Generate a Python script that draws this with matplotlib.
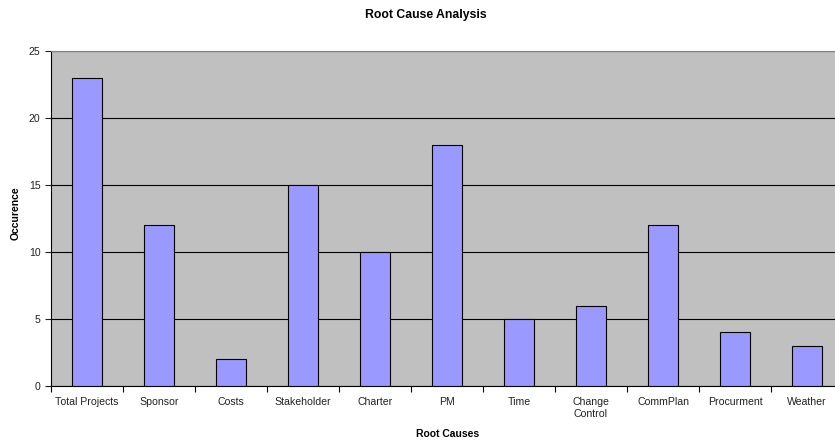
import numpy as np
import matplotlib.pyplot as plt

plt.rcParams['font.family'] = ['Liberation Sans', 'DejaVu Sans']

causes = ['Total Projects', 'Sponsor', 'Costs', 'Stakeholder', 'Charter', 'PM',
          'Time', 'Change\nControl', 'CommPlan', 'Procurment', 'Weather']
occurrence = [23, 12, 2, 15, 10, 18, 5, 6, 12, 4, 3]

fig = plt.figure(figsize=(8.35, 4.42), dpi=100)
# plot area runs a bit past the right edge of the picture, as in the original
ax = fig.add_axes([51 / 835, 1 - 386 / 442, 792 / 835, 335 / 442])
ax.set_facecolor('#C0C0C0')

x = np.arange(len(causes))
ax.bar(x, occurrence, width=0.41, color='#9999FF', edgecolor='black', linewidth=0.8, zorder=3)

ax.set_xlim(-0.5, len(causes) - 0.5)
ax.set_ylim(0, 25)
ax.set_yticks([0, 5, 10, 15, 20, 25])
ax.yaxis.grid(True, color='black', linewidth=0.8, zorder=1)

# category labels centred, tick marks between categories
ax.set_xticks(x)
ax.set_xticklabels(causes, fontsize=7.6, color='#222222')
ax.tick_params(axis='x', length=0, pad=8)
ax.set_xticks(np.arange(-0.5, len(causes)), minor=True)
ax.tick_params(axis='x', which='minor', length=4, direction='out', width=0.8)
ax.tick_params(axis='y', labelsize=7.6, length=4, width=0.8, colors='#222222')

for side in ['top', 'right']:
    ax.spines[side].set_color('#808080')
    ax.spines[side].set_linewidth(0.8)
for side in ['left', 'bottom']:
    ax.spines[side].set_color('black')
    ax.spines[side].set_linewidth(0.8)

fig.text(426 / 835, 1 - 15 / 442, 'Root Cause Analysis', ha='center', va='center',
         fontsize=8.8, fontweight='bold')
fig.text(448 / 835, 1 - 434 / 442, 'Root Causes', ha='center', va='center',
         fontsize=7.5, fontweight='bold')
fig.text(16 / 835, 1 - 213 / 442, 'Occurence', ha='center', va='center',
         rotation=90, fontsize=7.5, fontweight='bold')

fig.savefig('out.png', dpi=100)
